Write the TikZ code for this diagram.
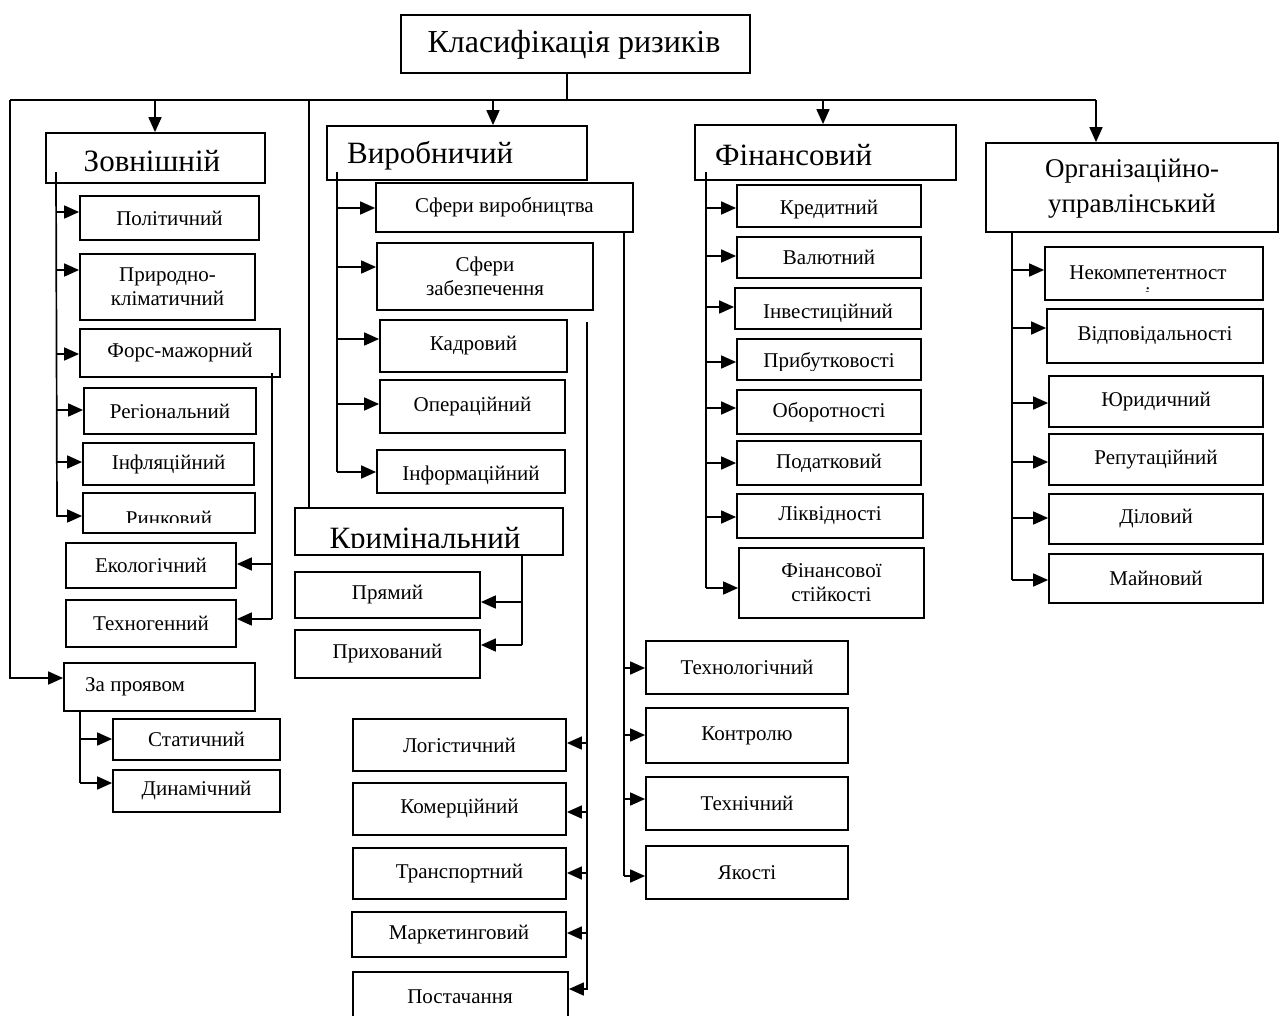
\documentclass[tikz,border=0pt]{standalone}
\usepackage{fontspec}
\setmainfont{Liberation Serif}
\usetikzlibrary{arrows.meta}
\newcommand\fsm{\fontsize{21}{24}\selectfont}
\newcommand\fbig{\fontsize{31}{36}\selectfont}
\newcommand\ftitle{\fontsize{32}{36}\selectfont}
\newcommand\forg{\fontsize{27}{35}\selectfont}
\tikzset{
  box/.style={draw, line width=1.8pt, inner sep=0pt, align=center, font=\fsm},
  txt/.style={inner sep=0pt, align=center, font=\fsm},
  ln/.style={line width=1.7pt},
  arr/.style={ln, -{Triangle[length=15pt,width=13pt]}},
}
% \BX{name}{x1}{y1}{x2}{y2}{text}
\newcommand\BX[6]{\node[box,minimum width={#4-#2},minimum height={#5-#3}] (#1) at ({(#2+#4)/2},{(#3+#5)/2}) {#6};}
\begin{document}
\begin{tikzpicture}[x=1pt,y=-1pt]
\useasboundingbox (0,0) rectangle (1279,1015);
% ---------- top level
\BX{title}{401}{15}{750}{73}{}
\node[txt,font=\ftitle] (title-t) at (574,45) {Класифікація ризиків};
\BX{zov}{46}{133}{265}{183}{}
\node[txt,font=\fbig] (zov-t) at (152,161) {Зовнішній};
\BX{vyr}{327}{126}{587}{180}{}
\node[txt,font=\fbig,anchor=west] (vyr-t) at (347,156) {Виробничий};
\BX{fin}{695}{125}{956}{180}{}
\node[txt,font=\fbig,anchor=west] (fin-t) at (715,155) {Фінансовий};
\BX{org}{986}{143}{1278}{232}{}
\node[txt,font=\forg] (org-t) at (1132,189) {Організаційно-\\управлінський};
\BX{krim}{295}{508}{563}{555}{}
\begin{scope}
\clip (296,509) rectangle (562,547);
\node[txt,font=\fbig,anchor=base] (krim-t) at (425,548) {Кримінальний};
\end{scope}
\BX{zap}{64}{663}{255}{711}{}
\node[txt,anchor=west] (zap-t) at (85,687) {За проявом};
% ---------- trunk lines from the title
\coordinate (stem) at (567,100);
\coordinate (tl) at (10,100);
\coordinate (tr) at (1096,100);
\coordinate (lb) at (10,678);
\coordinate (a1) at (155,100);
\coordinate (a2) at (309,100);
\coordinate (a3) at (493,100);
\coordinate (a4) at (823,100);
\draw[ln] (title.south -| stem) -- (stem);
\draw[ln] (tl) -- (tr);
\draw[arr] (tr) -- (org.north -| tr);
\draw[arr] (tl) -- (lb) -- (zap.west |- lb);
\draw[arr] (a1) -- (zov.north -| a1);
\draw[ln] (a2) -- (krim.north -| a2);
\draw[arr] (a3) -- (vyr.north -| a3);
\draw[arr] (a4) -- (fin.north -| a4);
% ---------- Зовнішній
\BX{pol}{80}{196}{259}{240}{Політичний}
\BX{pryr}{80}{254}{255}{320}{Природно-\\кліматичний}
\BX{fors}{80}{329}{280}{377}{Форс-мажорний}
\BX{reg}{84}{388}{256}{434}{Регіональний}
\BX{infl}{83}{443}{254}{485}{Інфляційний}
\BX{rynk}{83}{493}{255}{533}{}
\begin{scope}
\clip (84,494) rectangle (254,522);
\node[txt,anchor=base] (rynk-t) at (169,525) {Ринковий};
\end{scope}
\BX{eko}{66}{543}{236}{588}{Екологічний}
\BX{tekh}{66}{600}{236}{647}{Техногенний}
\coordinate (zt) at (56,172);
\coordinate (zb) at (57,516);
\draw[ln] (zt) -- (zb);
\foreach \n/\y in {pol/212,pryr/270,fors/354,reg/410,infl/462,rynk/516}
  \draw[arr] (56,\y) -- (\n.west |- 0,\y);
\coordinate (ft) at (272,373);
\coordinate (fb) at (272,619);
\draw[ln] (ft) -- (fb);
\draw[arr] (272,564) -- (eko.east |- 0,564);
\draw[arr] (fb) -- (tekh.east |- fb);
% ---------- За проявом
\BX{stat}{113}{719}{280}{760}{Статичний}
\BX{dyn}{113}{770}{280}{812}{Динамічний}
\draw[ln] (zap.south -| 80,0) -- (80,783);
\draw[arr] (80,739) -- (stat.west |- 0,739);
\draw[arr] (80,783) -- (dyn.west |- 0,783);
% ---------- Виробничий
\BX{sfv}{376}{183}{633}{232}{Сфери виробництва}
\BX{sfz}{377}{243}{593}{310}{Сфери\\забезпечення}
\BX{kadr}{380}{320}{567}{372}{Кадровий}
\BX{oper}{380}{380}{565}{433}{Операційний}
\BX{inf}{377}{450}{565}{493}{}
\node[txt,anchor=base] (inf-t) at (471,480) {Інформаційний};
\coordinate (vt) at (337,172);
\coordinate (vb) at (337,472);
\draw[ln] (vt) -- (vb);
\foreach \n/\y in {sfv/208,sfz/267,kadr/339,oper/404,inf/472}
  \draw[arr] (337,\y) -- (\n.west |- 0,\y);
% right branch of Сфери виробництва
\BX{tlg}{646}{641}{848}{694}{Технологічний}
\BX{ktr}{646}{708}{848}{763}{Контролю}
\BX{tkh}{646}{777}{848}{830}{Технічний}
\BX{yak}{646}{846}{848}{899}{Якості}
\draw[ln] (sfv.south -| 624,0) -- (624,876);
\foreach \n/\y in {tlg/668,ktr/735,tkh/799,yak/876}
  \draw[arr] (624,\y) -- (\n.west |- 0,\y);
% left branch below Сфери забезпечення
\BX{log}{353}{719}{566}{771}{Логістичний}
\BX{kom}{353}{783}{566}{835}{Комерційний}
\BX{trn}{353}{848}{566}{899}{Транспортний}
\BX{mrk}{352}{912}{566}{957}{Маркетинговий}
\BX{pst}{353}{972}{568}{1040}{}
\node[txt] (pst-t) at (460,997) {Постачання};
\coordinate (st) at (587,322);
\draw[ln] (st) -- (587,990);
\foreach \n/\y in {log/743,kom/812,trn/873,mrk/933,pst/989}
  \draw[arr] (587,\y) -- (\n.east |- 0,\y);
% ---------- Кримінальний
\BX{prm}{295}{572}{480}{618}{Прямий}
\BX{prh}{295}{630}{480}{678}{Прихований}
\draw[ln] (krim.south -| 522,0) -- (522,645);
\draw[arr] (522,602) -- (prm.east |- 0,602);
\draw[arr] (522,645) -- (prh.east |- 0,645);
% ---------- Фінансовий
\BX{kred}{737}{185}{921}{227}{}
\begin{scope}
\clip (738,186) rectangle (920,218);
\node[txt,anchor=base] (kred-t) at (829,214) {Кредитний};
\end{scope}
\BX{val}{737}{237}{921}{278}{Валютний}
\BX{inv}{735}{288}{921}{329}{}
\begin{scope}
\clip (736,289) rectangle (920,321);
\node[txt,anchor=base] (inv-t) at (828,318) {Інвестиційний};
\end{scope}
\BX{prb}{737}{339}{921}{380}{}
\begin{scope}
\clip (738,340) rectangle (920,370);
\node[txt,anchor=base] (prb-t) at (829,367) {Прибутковості};
\end{scope}
\BX{obr}{737}{390}{921}{434}{Оборотності}
\BX{pod}{737}{441}{921}{485}{Податковий}
\BX{likv}{737}{494}{923}{538}{Ліквідності}
\BX{fst}{739}{548}{924}{618}{Фінансової\\стійкості}
\coordinate (fnt) at (706,172);
\draw[ln] (fnt) -- (706,588);
\foreach \n/\y in {kred/208,val/256,inv/307,prb/362,obr/408,pod/463,likv/517,fst/588}
  \draw[arr] (706,\y) -- (\n.west |- 0,\y);
% ---------- Організаційно-управлінський
\BX{nek}{1045}{247}{1263}{300}{}
\begin{scope}
\clip (1046,248) rectangle (1262,291);
\node[txt,anchor=base] (nek-t) at (1148,279) {Некомпетентност};
\node[txt,anchor=base] (nek-i) at (1148,301) {і};
\end{scope}
\BX{vidp}{1047}{309}{1263}{363}{Відповідальності}
\BX{yur}{1049}{376}{1263}{427}{Юридичний}
\BX{rep}{1049}{434}{1263}{485}{Репутаційний}
\BX{dil}{1049}{494}{1263}{544}{Діловий}
\BX{mai}{1049}{554}{1263}{603}{Майновий}
\draw[ln] (org.south -| 1012,0) -- (1012,580);
\foreach \n/\y in {nek/270,vidp/328,yur/403,rep/462,dil/518,mai/580}
  \draw[arr] (1012,\y) -- (\n.west |- 0,\y);
\end{tikzpicture}
\end{document}
